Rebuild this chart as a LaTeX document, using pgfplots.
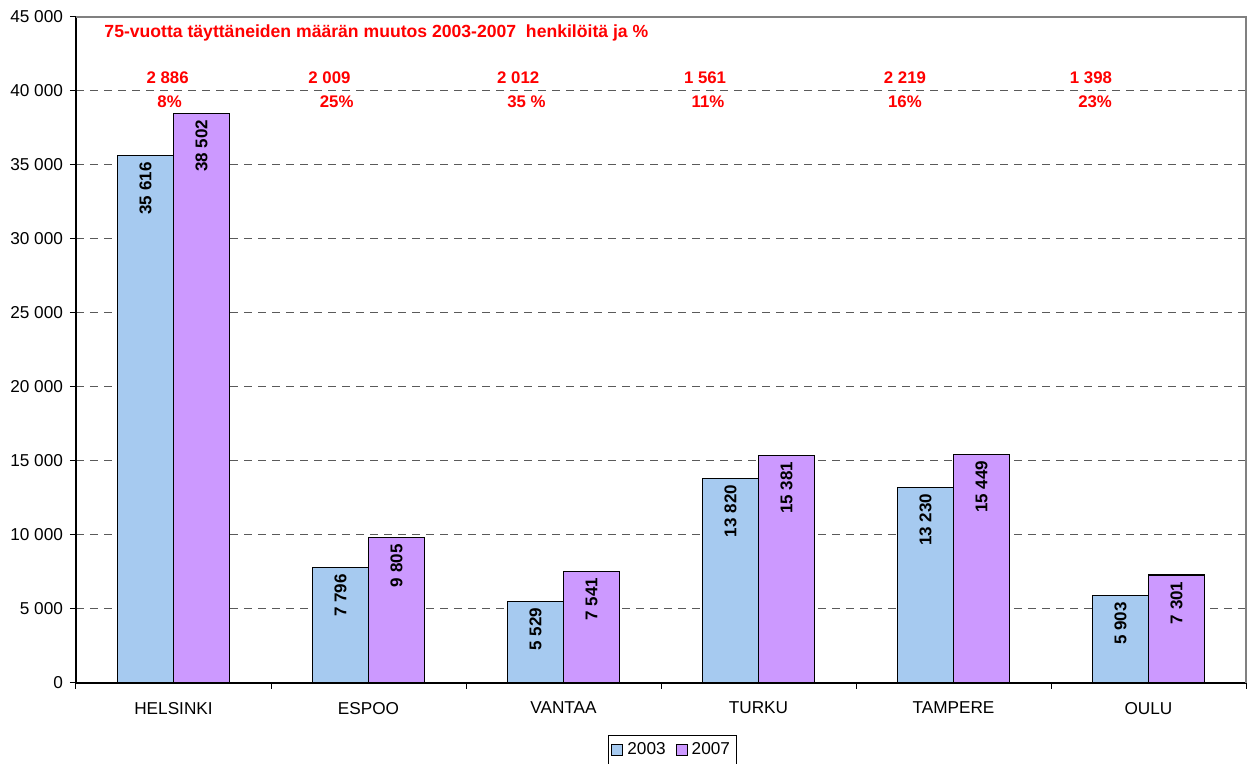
\documentclass[border=0pt]{standalone}
\usepackage{pgfplots}
\pgfplotsset{compat=1.18}
\usepackage{fontspec}
\setmainfont{Liberation Sans}

\definecolor{bar03}{RGB}{166,202,240}
\definecolor{bar07}{RGB}{204,153,255}
\definecolor{gridc}{RGB}{90,90,90}

\begin{document}
\begin{tikzpicture}
\path[use as bounding box] (-38pt,-40.5pt) rectangle (586pt,341.5pt);
\begin{axis}[
    at={(0,0)}, anchor=south west,
    scale only axis,
    width=585pt, height=333pt,
    ybar=0pt, bar width=28pt,
    xmin=-0.5, xmax=5.5,
    ymin=0, ymax=45000,
    axis x line*=bottom, axis y line*=left,
    axis line style={black, line width=0.6pt},
    xtick={0,1,2,3,4,5},
    xticklabels={HELSINKI,ESPOO,VANTAA,TURKU,TAMPERE,OULU},
    major x tick style={draw=none},
    extra x ticks={-0.5,0.5,1.5,2.5,3.5,4.5,5.5},
    extra x tick labels={},
    extra x tick style={major tick length=3pt, tick align=outside, major x tick style={draw=black}, xmajorgrids=false},
    ytick={0,5000,...,45000},
    scaled y ticks=false,
    tick align=outside, major tick length=3pt,
    tick style={black, line width=0.5pt},
    ymajorgrids,
    grid style={gridc, line width=0.5pt, dash pattern=on 4pt off 3pt},
    /pgf/number format/.cd, 1000 sep={\ }, assume math mode=true, /pgfplots/.cd,
    ticklabel style={font=\fontsize{8.6}{10}\selectfont},
    xticklabel style={yshift=-3pt},
    nodes near coords,
    every node near coord/.append style={font=\fontsize{8.5}{10}\selectfont\bfseries, rotate=90, anchor=east, inner sep=3pt, text=black},
    legend style={at={(0.51,-0.1)}, anchor=center, draw=black, line width=0.5pt,
        font=\fontsize{8.6}{10}\selectfont, legend columns=2, inner sep=1.5pt,
        /tikz/every even column/.append style={column sep=3pt}},
    legend image code/.code={\draw[#1, draw=black, line width=0.5pt] (0pt,-2.75pt) rectangle (5.5pt,2.75pt);},
    clip=false,
]
\addplot[fill=bar03, draw=black, line width=0.6pt] coordinates {(0,35616) (1,7796) (2,5529) (3,13820) (4,13230) (5,5903)};
\addplot[fill=bar07, draw=black, line width=0.6pt] coordinates {(0,38502) (1,9805) (2,7541) (3,15381) (4,15449) (5,7301)};
\legend{2003,2007}

\draw[gray, line width=0.6pt] (rel axis cs:0,1) -- (rel axis cs:1,1) -- (rel axis cs:1,0);

\begin{scope}[every node/.style={text=red, font=\fontsize{8.4}{10}\selectfont\bfseries, inner sep=0pt}]
\node[anchor=west, font=\fontsize{8.8}{10}\selectfont\bfseries] at (axis cs:-0.356,43900) {75-vuotta täyttäneiden määrän muutos 2003-2007\ \ henkilöitä ja \%};
\node at (axis cs:-0.03,40900) {2 886};  \node at (axis cs:-0.02,39300) {8\%};
\node at (axis cs:0.80,40900) {2 009};  \node at (axis cs:0.837,39300) {25\%};
\node at (axis cs:1.768,40900) {2 012};  \node at (axis cs:1.81,39300) {35 \%};
\node at (axis cs:2.726,40900) {1 561};  \node at (axis cs:2.741,39300) {11\%};
\node at (axis cs:3.751,40900) {2 219};  \node at (axis cs:3.751,39300) {16\%};
\node at (axis cs:4.705,40900) {1 398};  \node at (axis cs:4.726,39300) {23\%};
\end{scope}
\end{axis}
\end{tikzpicture}
\end{document}
